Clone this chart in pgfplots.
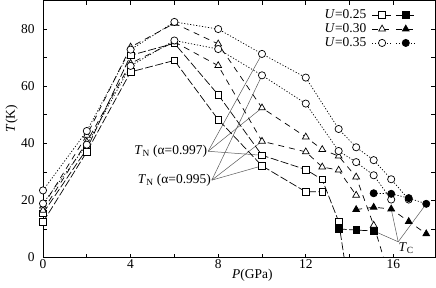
\documentclass[border=0pt]{standalone}
\usepackage{fontspec}
\setmainfont{Liberation Serif}
\usepackage{pgfplots}
\pgfplotsset{compat=1.18}
\usepackage{pgfplotstable}

% U=0.25, alpha=0.997 / 0.995, and T_C (filled)
\pgfplotstableread{
x y
0 15.5
2 38
4 70.8
6 75
8 57
10 35.8
12 30.8
12.75 27.3
13.5 12.6
}\sqA
\pgfplotstableread{
x y
0 12.4
2 37
4 65
6 69
8 48.3
10 32.1
12 23
12.75 23
}\sqB
\pgfplotstableread{
x y
13.5 10
14.3 9.6
15.1 9.3
}\sqC
% U=0.30
\pgfplotstableread{
x y
0 18
2 42.8
4 73.7
6 82
8 74.8
10 52.4
12 42.2
12.75 37.8
13.5 35.5
14.3 28.2
15.1 11.3
}\trA
\pgfplotstableread{
x y
0 16.5
2 40.5
4 68
6 75.5
8 67.2
10 40.7
12 37
12.75 31.7
13.5 30.6
14.3 21.8
}\trB
\pgfplotstableread{
x y
14.3 16.8
15.1 17.6
15.9 17
16.7 12.6
17.5 8.3
}\trC
% U=0.35
\pgfplotstableread{
x y
0 23.5
2 44.3
4 72.8
6 82.5
8 80
10 71.3
12 63
13.5 45
14.3 38.6
15.1 34.1
15.9 27.4
16.7 20.3
}\ciA
\pgfplotstableread{
x y
0 18.9
2 39.5
4 67.1
6 76
8 73
10 63.8
12 53.9
13.5 37.3
14.3 33.4
15.1 28.8
15.9 20.3
}\ciB
\pgfplotstableread{
x y
15.1 22.5
15.9 22.3
16.7 20.8
17.5 18.8
}\ciC

\pgfplotsset{
  sqline/.style={black, line width=0.7bp, dash pattern=on 8bp off 2.5bp},
  trline/.style={black, line width=0.7bp, dash pattern=on 6bp off 5bp},
  ciline/.style={black, line width=0.7bp, dash pattern=on 1.2bp off 1.8bp},
  pointer/.style={black!65, line width=0.5bp, no marks, forget plot},
  omark/.style={only marks, black, mark options={solid, fill=white, line width=0.7bp}, forget plot},
  fmark/.style={only marks, black, mark options={solid, fill=black, line width=0.7bp}, forget plot},
}

\begin{document}
\begin{tikzpicture}
\begin{axis}[
    name=ax, scale only axis, width=392bp, height=257bp,
    xmin=0, xmax=17.9, ymin=0, ymax=90,
    xtick={0,4,8,12,16}, minor xtick={2,6,10,14},
    ytick={0,20,40,60,80}, minor ytick={10,30,50,70},
    tick align=inside, major tick length=4bp, minor tick length=4bp,
    tick style={black, line width=0.6bp},
    axis line style={line width=0.7bp},
    font=\fontsize{13.5}{15}\selectfont,
    /pgf/number format/assume math mode=true,
    yticklabel style={xshift=-5bp},
    xticklabel style={yshift=1bp},
    xlabel={\textit{P}(GPa)}, ylabel={\textit{T}(K)},
    xlabel style={at={(axis description cs:0.534,0)}, anchor=north, yshift=-8bp},
    ylabel style={at={(axis description cs:-0.08,0.54)}, anchor=center},
    clip=false,
    legend plot pos=right, legend columns=2,
    legend style={draw=none, fill=none, at={(axis description cs:0.96,0.978)}, anchor=north east,
        font=\fontsize{13.5}{15}\selectfont, row sep=0.5bp,
        nodes={inner sep=1.5bp}},
    legend image code/.code={\draw[mark repeat=2, mark phase=2, #1] plot coordinates {(0bp,0bp) (10bp,0bp) (20bp,0bp)};},
]
% pointer lines for the labels
\addplot[pointer] coordinates {(7.54,37.2) (10,71.3)};
\addplot[pointer] coordinates {(7.54,37.2) (10,52.4)};
\addplot[pointer] coordinates {(7.54,37.2) (10,35.8)};
\addplot[pointer] coordinates {(7.71,27.1) (10,63.8)};
\addplot[pointer] coordinates {(7.71,27.1) (10,40.7)};
\addplot[pointer] coordinates {(7.71,27.1) (10,32.1)};
\addplot[pointer] coordinates {(16.22,5.5) (15.1,9.3)};
\addplot[pointer] coordinates {(16.22,5.5) (15.9,17)};
\addplot[pointer] coordinates {(16.22,5.5) (17.5,18.8)};

% lines
\addplot[sqline, no marks, forget plot] table {\sqA};
\addplot[sqline, no marks, forget plot] coordinates {(13.5,12.6) (13.75,0)};
\addplot[sqline, no marks, forget plot] table {\sqB};
\addplot[sqline, no marks, forget plot] table {\sqC};
\addplot[trline, no marks, forget plot] table {\trA};
\addplot[trline, no marks, forget plot] coordinates {(15.1,11.3) (15.55,0)};
\addplot[trline, no marks, forget plot] table {\trB};
\addplot[trline, no marks, forget plot] table {\trC};
\addplot[ciline, no marks, forget plot] table {\ciA};
\addplot[ciline, no marks, forget plot] table {\ciB};
\addplot[ciline, no marks, forget plot] table {\ciC};

% marks
\addplot[omark, mark=square*, mark size=3.3bp] table {\sqA};
\addplot[omark, mark=square*, mark size=3.3bp] table {\sqB};
\addplot[fmark, mark=square*, mark size=3.3bp] table {\sqC};
\addplot[omark, mark=triangle*, mark size=3.9bp] table {\trA};
\addplot[omark, mark=triangle*, mark size=3.9bp] table {\trB};
\addplot[fmark, mark=triangle*, mark size=3.9bp] table {\trC};
\addplot[omark, mark=*, mark size=3.6bp] table {\ciA};
\addplot[omark, mark=*, mark size=3.6bp] table {\ciB};
\addplot[fmark, mark=*, mark size=3.6bp] table {\ciC};

% legend
\addlegendimage{sqline, mark=square*, mark size=3.3bp, mark options={solid, fill=white}}
\addlegendentry{\textit{U}=0.25\hbox to 4bp{}}
\addlegendimage{sqline, mark=square*, mark size=3.3bp, mark options={solid, fill=black}}
\addlegendentry{}
\addlegendimage{trline, mark=triangle*, mark size=3.9bp, mark options={solid, fill=white}}
\addlegendentry{\textit{U}=0.30\hbox to 4bp{}}
\addlegendimage{trline, mark=triangle*, mark size=3.9bp, mark options={solid, fill=black}}
\addlegendentry{}
\addlegendimage{ciline, mark=*, mark size=3.6bp, mark options={solid, fill=white}}
\addlegendentry{\textit{U}=0.35\hbox to 4bp{}}
\addlegendimage{ciline, mark=*, mark size=3.6bp, mark options={solid, fill=black}}
\addlegendentry{}

% labels
\node[anchor=east, inner sep=0pt] at (axis cs:7.5,37.2) {\textit{T}\textsubscript{N} (α=0.997)};
\node[anchor=east, inner sep=0pt] at (axis cs:7.67,27.1) {\textit{T}\textsubscript{N} (α=0.995)};
\node[inner sep=0pt] at (axis cs:16.58,3.4) {\textit{T}\textsubscript{C}};
\end{axis}
\pgfresetboundingbox
\path ([shift={(-43bp,-30bp)}]ax.south west) rectangle ([shift={(1bp,0.5bp)}]ax.north east);
\end{tikzpicture}
\end{document}
